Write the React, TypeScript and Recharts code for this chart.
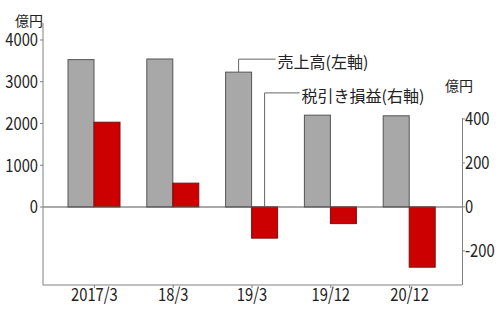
import { BarChart, Bar, XAxis, YAxis, ReferenceLine } from "recharts"

const periods = ["2017/3", "18/3", "19/3", "19/12", "20/12"]
const sales = [3530, 3545, 3230, 2200, 2185]
const netIncome = [385, 108, -142, -76, -274]
const leftTicks = [0, 1000, 2000, 3000, 4000]
const rightTicks = [-200, 0, 200, 400]

const data = periods.map((p, i) => ({ period: p, sales: sales[i], net: netIncome[i] }))

const jpFont = "'Noto Sans CJK JP', sans-serif"
const axisColor = "#808080"

// narrow tick text (the original uses a condensed face)
function makeTick(anchor: "start" | "middle" | "end", dy: string) {
  return (props: any) => {
    const { x, y, payload } = props
    return (
      <g transform={`translate(${x},${y}) scale(0.82,1)`}>
        <text x={0} y={0} dy={dy} textAnchor={anchor} fontFamily={jpFont} fontSize={18} fill="#222">
          {payload.value}
        </text>
      </g>
    )
  }
}

// bar with a leader line + caption on the chosen index
function makeShape(fill: string, stroke: string, labelIdx: number, label: string, rise: number, run: number) {
  return (props: any) => {
    const { x, y, width, height, index } = props
    const top = Math.min(y, y + height)
    const h = Math.abs(height)
    const cx = x + width / 2
    return (
      <g>
        <rect x={x} y={top} width={width} height={h} fill={fill} stroke={stroke} strokeWidth={1} />
        {index === labelIdx && (
          <g>
            <polyline
              points={`${cx},${top} ${cx},${top - rise} ${cx + run},${top - rise}`}
              fill="none"
              stroke="#666"
              strokeWidth={1}
            />
            <text
              x={cx + run + 2}
              y={top - rise + 2}
              dominantBaseline="central"
              fontFamily={jpFont}
              fontSize={16}
              fill="#222"
            >
              {label}
            </text>
          </g>
        )}
      </g>
    )
  }
}

export default function App() {
  return (
    <div style={{ position: "absolute", left: 0, top: 0, width: 500, height: 311, background: "#fff" }}>
      <div style={{ position: "absolute", left: 15, top: 10, fontFamily: jpFont, fontSize: 14, color: "#222", lineHeight: "20px" }}>
        億円
      </div>
      <div style={{ position: "absolute", left: 445, top: 75, fontFamily: jpFont, fontSize: 14, color: "#222", lineHeight: "20px" }}>
        億円
      </div>
      <div style={{ position: "absolute", left: 462, top: 118, width: 1, height: 167, background: axisColor }} />
      <BarChart
        width={500}
        height={311}
        data={data}
        margin={{ top: 23, right: 0, bottom: 0, left: 0 }}
        barGap={0}
        barSize={26}
      >
        <XAxis
          dataKey="period"
          height={26}
          padding={{ left: 12, right: 13 }}
          stroke={axisColor}
          tickSize={3}
          tickMargin={0}
          tick={makeTick("middle", "0.71em")}
        />
        <YAxis
          yAxisId="left"
          width={43}
          domain={[-1868, 4407]}
          ticks={leftTicks}
          allowDataOverflow
          stroke={axisColor}
          tickSize={3}
          tickMargin={2}
          tick={makeTick("end", "0.36em")}
        />
        <YAxis
          yAxisId="right"
          orientation="right"
          width={38}
          domain={[-355, 836]}
          ticks={rightTicks}
          allowDataOverflow
          axisLine={false}
          stroke={axisColor}
          tickSize={3}
          tickMargin={0}
          tick={makeTick("start", "0.36em")}
        />
        <ReferenceLine yAxisId="left" y={0} stroke="#555" />
        <Bar
          yAxisId="left"
          dataKey="sales"
          isAnimationActive={false}
          shape={makeShape("#a8a8a8", "#555", 2, "売上高(左軸)", 13, 37)}
        />
        <Bar
          yAxisId="right"
          dataKey="net"
          isAnimationActive={false}
          shape={makeShape("#cc0000", "#7a1010", 2, "税引き損益(右軸)", 114, 35)}
        />
      </BarChart>
    </div>
  )
}
